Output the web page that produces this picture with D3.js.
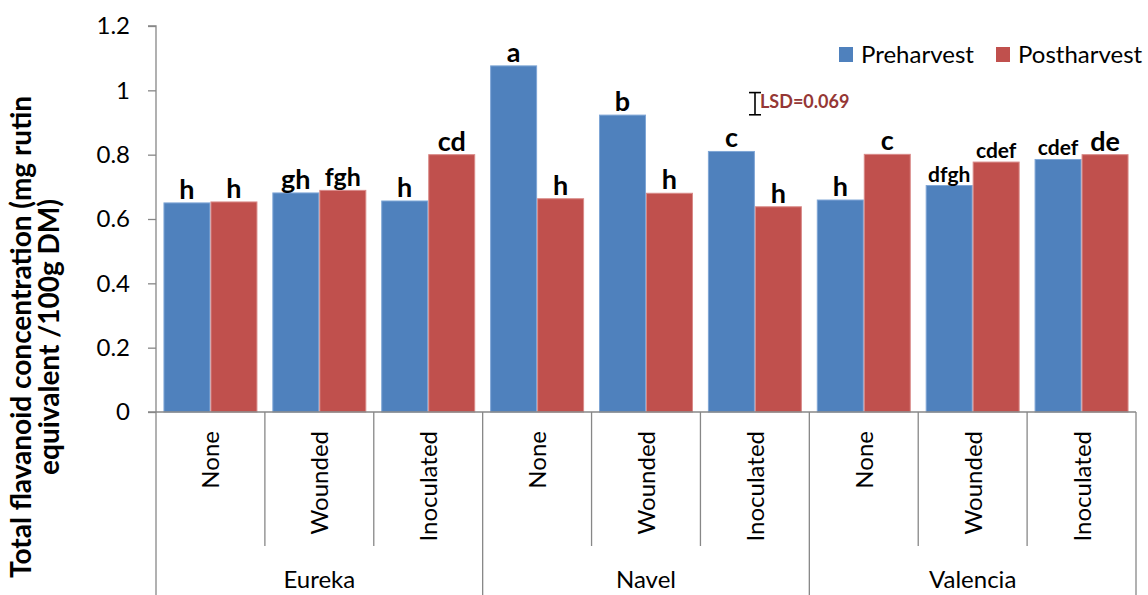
<!DOCTYPE html>
<html>
<head>
<meta charset="utf-8">
<script src="https://cdn.jsdelivr.net/npm/d3@7"></script>
<style>
  html, body { margin: 0; padding: 0; background: #fff; }
  svg { display: block; font-family: Lato, "Open Sans", sans-serif; }
</style>
</head>
<body>
<svg id="chart" width="1148" height="595"></svg>
<script>
// Cultivars and wound treatments along the x axis
const cultivars = ["Eureka", "Navel", "Valencia"];
const treatments = ["None", "Wounded", "Inoculated"];
const seriesNames = ["Preharvest", "Postharvest"];

// Total flavanoid concentration, one value per cultivar x treatment
const preharvest  = [0.650, 0.681, 0.656, 1.076, 0.923, 0.810, 0.659, 0.704, 0.785];
const postharvest = [0.653, 0.689, 0.800, 0.663, 0.680, 0.638, 0.801, 0.777, 0.800];

// Mean-separation letters
const preLetters  = ["h", "gh", "h", "a", "b", "c", "h", "dfgh", "cdef"];
const postLetters = ["h", "fgh", "cd", "h", "h", "h", "c", "cdef", "de"];

const yTicks = [0, 0.2, 0.4, 0.6, 0.8, 1, 1.2];
const lsdValue = 0.069;
const lsdBase = 0.924;

const colors = { Preharvest: "#4F81BD", Postharvest: "#C0504D" };
const strokes = { Preharvest: "#7FA6D6", Postharvest: "#D98A88" };
const axisGray = "#878787";

const svg = d3.select("#chart");
const plotLeft = 156, plotRight = 1136, plotTop = 26, base = 412, plotBottom = 595;

// One slot per cultivar/treatment pair
const slots = [];
cultivars.forEach((c, ci) => treatments.forEach((t, ti) => slots.push({ c, t, i: ci * 3 + ti })));

const x = d3.scaleBand().domain(slots.map(s => s.i)).range([plotLeft, plotRight])
  .paddingInner(0.137).paddingOuter(0.0685);
const xs = d3.scaleBand().domain(seriesNames).range([0, x.bandwidth()]);
const y = d3.scaleLinear().domain([0, 1.2]).range([base, plotTop]);
const step = x.step();

// Y axis
const yAxis = d3.axisLeft(y).tickValues(yTicks).tickSize(8).tickPadding(18)
  .tickFormat(d => d3.format("")(d));
const gy = svg.append("g").attr("transform", `translate(${plotLeft},0)`).call(yAxis);
gy.select(".domain").attr("stroke", axisGray).attr("stroke-width", 1.3)
  .attr("d", `M-8,${plotTop}H0V${base}`);
gy.selectAll(".tick line").attr("stroke", axisGray).attr("stroke-width", 1.3);
gy.selectAll(".tick text").attr("font-size", 24).attr("fill", "#000")
  .attr("font-family", "Lato, sans-serif");

// Bars
const rows = slots.map(s => ({ ...s, Preharvest: preharvest[s.i], Postharvest: postharvest[s.i],
  lab: { Preharvest: preLetters[s.i], Postharvest: postLetters[s.i] } }));

const groups = svg.append("g").selectAll("g").data(rows).join("g")
  .attr("transform", d => `translate(${x(d.i)},0)`);

groups.selectAll("rect").data(d => seriesNames.map(k => ({ k, v: d[k] }))).join("rect")
  .attr("x", d => xs(d.k) + 0.5)
  .attr("y", d => y(d.v))
  .attr("width", xs.bandwidth() - 1)
  .attr("height", d => base - y(d.v))
  .attr("fill", d => colors[d.k])
  .attr("stroke", d => strokes[d.k])
  .attr("stroke-width", 1);

// Letters above bars; longer strings are set a little smaller
const letterSize = s => s.length >= 4 ? 21 : (s.length === 3 ? 25 : 27);
groups.selectAll("text").data(d => seriesNames.map(k => ({ k, v: d[k], s: d.lab[k] }))).join("text")
  .attr("x", d => xs(d.k) + xs.bandwidth() / 2)
  .attr("y", d => y(d.v) - 4)
  .attr("text-anchor", "middle")
  .attr("font-weight", "bold")
  .attr("font-size", d => letterSize(d.s))
  .text(d => d.s);

// X axis baseline and category dividers
const gx = svg.append("g").attr("stroke", axisGray).attr("stroke-width", 1.3);
gx.append("line").attr("x1", plotLeft - 8).attr("x2", plotRight).attr("y1", base).attr("y2", base);
d3.range(slots.length + 1).forEach(j => {
  const xx = plotLeft + j * step;
  const outer = j % treatments.length === 0;
  gx.append("line").attr("x1", xx).attr("x2", xx).attr("y1", base).attr("y2", outer ? plotBottom : 546);
});

// Treatment labels (rotated)
svg.append("g").selectAll("text").data(slots).join("text")
  .attr("transform", d => `translate(${x(d.i) + x.bandwidth() / 2 + 9},431) rotate(-90)`)
  .attr("text-anchor", "end")
  .attr("font-size", 24)
  .text(d => d.t);

// Cultivar labels
svg.append("g").selectAll("text").data(cultivars).join("text")
  .attr("x", (d, i) => plotLeft + (i * 3 + 1.5) * step)
  .attr("y", 588)
  .attr("text-anchor", "middle")
  .attr("font-size", 24)
  .text(d => d);

// Y axis title
const title = svg.append("text")
  .attr("transform", "translate(0,337) rotate(-90)")
  .attr("text-anchor", "middle")
  .attr("font-weight", "bold")
  .attr("font-size", 28);
title.append("tspan").attr("x", 0).attr("y", 31).text("Total flavanoid concentration (mg rutin");
title.append("tspan").attr("x", 0).attr("y", 59).text("equivalent /100g DM)");

// Legend
const legend = svg.append("g").attr("transform", "translate(839,47)");
const legendX = [0, 157];
seriesNames.forEach((k, i) => {
  const g = legend.append("g").attr("transform", `translate(${legendX[i]},0)`);
  g.append("rect").attr("width", 14).attr("height", 15).attr("fill", colors[k]);
  g.append("text").attr("x", 22).attr("y", 16).attr("font-size", 24).text(k);
});

// LSD bar
const lsdX = 755;
const lsd = svg.append("g").attr("stroke", "#000").attr("stroke-width", 1.6);
lsd.append("line").attr("x1", lsdX).attr("x2", lsdX).attr("y1", y(lsdBase)).attr("y2", y(lsdBase + lsdValue));
[lsdBase, lsdBase + lsdValue].forEach(v => {
  lsd.append("line").attr("x1", lsdX - 6).attr("x2", lsdX + 6).attr("y1", y(v)).attr("y2", y(v));
});
svg.append("text").attr("x", lsdX + 5).attr("y", 108)
  .attr("font-size", 18).attr("font-weight", "bold").attr("fill", "#953735")
  .text("LSD=" + lsdValue.toFixed(3));
</script>
</body>
</html>
